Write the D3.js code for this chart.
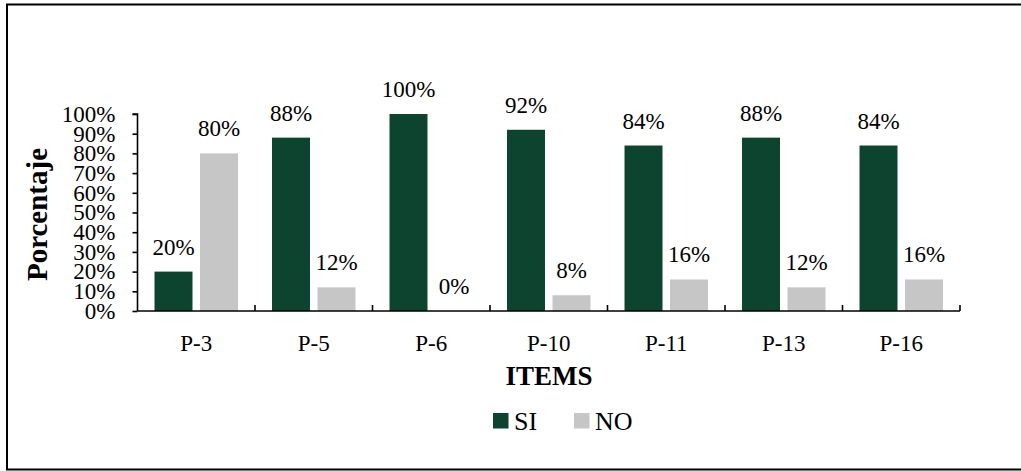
<!DOCTYPE html>
<html>
<head>
<meta charset="utf-8">
<script src="https://cdn.jsdelivr.net/npm/d3@7"></script>
<style>
  html, body { margin: 0; padding: 0; background: #fff; }
  svg { display: block; }
  text { font-family: "Liberation Serif", "Times New Roman", serif; fill: #000; }
</style>
</head>
<body>
<svg id="chart" width="1021" height="471"></svg>
<script>
const categories = ["P-3", "P-5", "P-6", "P-10", "P-11", "P-13", "P-16"];
const seriesNames = ["SI", "NO"];
const siValues = [0.20, 0.88, 1.00, 0.92, 0.84, 0.88, 0.84];
const noValues = [0.80, 0.12, 0.00, 0.08, 0.16, 0.12, 0.16];
const yTicks = [0, 0.1, 0.2, 0.3, 0.4, 0.5, 0.6, 0.7, 0.8, 0.9, 1.0];
const colors = { SI: "#0d4430", NO: "#c6c6c6" };

const svg = d3.select("#chart");

// outer frame
svg.append("rect")
  .attr("x", 7).attr("y", 4.5)
  .attr("width", 1030).attr("height", 465)
  .attr("fill", "none").attr("stroke", "#000").attr("stroke-width", 2);

const x0 = d3.scaleBand().domain(categories).range([137.5, 960]).paddingInner(0).paddingOuter(0);
const x1 = d3.scaleBand().domain(seriesNames).range([0, x0.bandwidth()]).paddingInner(0.165).paddingOuter(0.374);
const y = d3.scaleLinear().domain([0, 1]).range([311, 114]);

const rows = categories.map((c, i) => ({ cat: c, SI: siValues[i], NO: noValues[i] }));

// bars
const groups = svg.append("g").selectAll("g").data(rows).join("g")
  .attr("transform", d => `translate(${x0(d.cat)},0)`);

groups.selectAll("rect").data(d => seriesNames.map(s => ({ s, v: d[s] }))).join("rect")
  .attr("x", d => x1(d.s))
  .attr("width", x1.bandwidth())
  .attr("y", d => y(d.v))
  .attr("height", d => y(0) - y(d.v))
  .attr("fill", d => colors[d.s]);

groups.selectAll("text.lbl").data(d => seriesNames.map(s => ({ s, v: d[s] }))).join("text")
  .attr("class", "lbl")
  .attr("x", d => x1(d.s) + x1.bandwidth() / 2)
  .attr("y", d => y(d.v) - 17)
  .attr("text-anchor", "middle")
  .style("font-size", "23px")
  .text(d => Math.round(d.v * 100) + "%");

// y axis
const yAxis = svg.append("g").attr("transform", "translate(137.5,0)")
  .call(d3.axisLeft(y).tickValues(yTicks).tickFormat(d3.format(".0%")).tickSize(5).tickPadding(17));
yAxis.selectAll("text").style("font-size", "23px").style("font-family", "Liberation Serif, serif");
yAxis.selectAll("line, path").attr("stroke", "#000").attr("stroke-width", 1.6);
yAxis.select("path").attr("d", `M-5,${y(1)}H0V${y(0)}`);

// x axis
const xAxis = svg.append("g").attr("transform", `translate(0,${y(0)})`)
  .call(d3.axisBottom(x0).tickSize(0).tickPadding(24));
xAxis.selectAll("text").style("font-size", "23px").style("font-family", "Liberation Serif, serif");
xAxis.select("path").attr("stroke", "#000").attr("stroke-width", 1.6)
  .attr("d", `M${x0.range()[0]},0H${x0.range()[1]}`);
// separator ticks pointing up between categories
const boundaries = categories.slice(1).map(c => x0(c)).concat([x0.range()[1]]);
xAxis.selectAll("line.sep").data(boundaries).join("line")
  .attr("class", "sep")
  .attr("x1", d => d).attr("x2", d => d)
  .attr("y1", 0).attr("y2", -6)
  .attr("stroke", "#000").attr("stroke-width", 1.6);

// axis titles
svg.append("text")
  .attr("transform", "translate(47,214.5) rotate(-90)")
  .attr("text-anchor", "middle")
  .style("font-size", "29px").style("font-weight", "bold")
  .text("Porcentaje");

svg.append("text")
  .attr("x", 549).attr("y", 385)
  .attr("text-anchor", "middle")
  .style("font-size", "27px").style("font-weight", "bold")
  .text("ITEMS");

// legend
const legendX = [493, 574];
const legend = svg.append("g").selectAll("g").data(seriesNames).join("g")
  .attr("transform", (d, i) => `translate(${legendX[i]},413)`);
legend.append("rect").attr("width", 15.5).attr("height", 15.5).attr("fill", d => colors[d]);
legend.append("text").attr("x", 21).attr("y", 17)
  .style("font-size", "26px")
  .text(d => d);
</script>
</body>
</html>
